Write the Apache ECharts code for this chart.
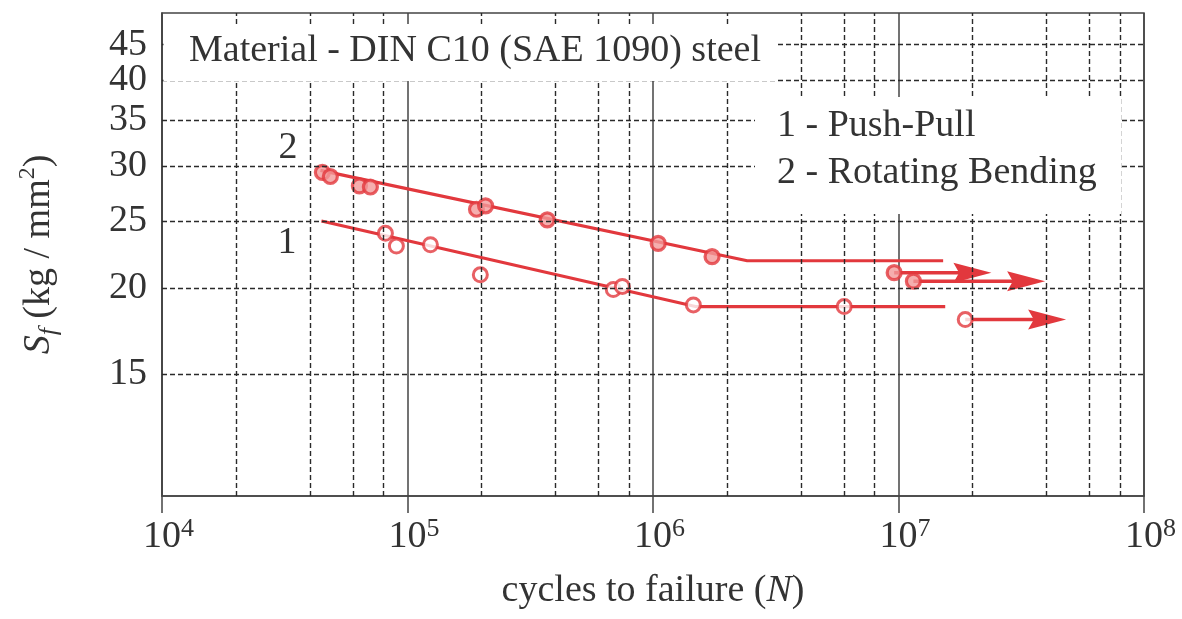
<!DOCTYPE html>
<html><head><meta charset="utf-8">
<script src="https://cdn.jsdelivr.net/npm/echarts@6/dist/echarts.min.js"></script>
<style>html,body{margin:0;padding:0;background:#fff}#c{width:1182px;height:619px}</style>
</head><body><div id="c"></div>
<script>
const FONT = '"Liberation Serif", "DejaVu Serif", serif';
const RED = '#e2383d';
const TXT = '#333';

// tick labels / grid positions
const xTickExponents = [4, 5, 6, 7, 8];
const yTickValues = [15, 20, 25, 30, 35, 40, 45];
const xMinorGrid = [2e4, 4e4, 6e4, 8e4, 2e5, 4e5, 6e5, 8e5, 2e6, 4e6, 6e6, 8e6, 2e7, 4e7, 6e7, 8e7];

// Curve 1 : Push-Pull
const pushPullFit = [[4.46e4, 25.0], [1.49e6, 18.8], [1.55e7, 18.8]];
const pushPullTests = [[8.13e4, 24.0], [9.01e4, 23.0], [1.24e5, 23.1], [1.98e5, 20.9], [6.89e5, 19.9],
  [7.5e5, 20.1], [1.46e6, 18.9], [6.01e6, 18.8], [1.87e7, 18.0]];
const pushPullRunouts = [[[1.87e7, 18.0], [4.03e7, 18.0]]];

// Curve 2 : Rotating Bending
const rotBendFit = [[4.42e4, 29.6], [2.42e6, 21.9], [1.52e7, 21.9]];
const rotBendTests = [[4.5e4, 29.4], [4.85e4, 29.0], [6.37e4, 28.1], [7.06e4, 28.0], [1.91e5, 26.0],
  [2.08e5, 26.3], [3.71e5, 25.1], [1.05e6, 23.2], [1.74e6, 22.2], [9.6e6, 21.05], [1.15e7, 20.46]];
const rotBendRunouts = [[[9.6e6, 21.05], [2.0e7, 21.05]], [[1.15e7, 20.46], [3.31e7, 20.46]]];

const ARROW = 'path://M0,0 L10,5 L0,10 L1.5,5 Z';

const chart = echarts.init(document.getElementById('c'), null, {renderer: 'canvas'});

function arrowSeries(seg) {
  return {
    type: 'line', silent: true, z: 3,
    lineStyle: {color: RED, width: 3.5},
    itemStyle: {color: RED},
    data: [
      {value: seg[0], symbol: 'none'},
      {value: seg[1], symbol: ARROW, symbolSize: [38, 20]}
    ]
  };
}

const gridLineData = []
  .concat(xMinorGrid.map(v => ({xAxis: v})))
  .concat(yTickValues.map(v => ({
    yAxis: v,
    label: {show: true, position: 'start', distance: 15, formatter: String(v),
      fontSize: 38, fontFamily: FONT, color: TXT}
  })));

const option = {
  animation: false,
  backgroundColor: '#fff',
  grid: {left: 162, right: 38, top: 13, bottom: 123, show: true, borderColor: '#444', borderWidth: 1.5,
    outerBoundsMode: 'none'},
  xAxis: {
    type: 'log', logBase: 10, min: 1e4, max: 1e8,
    name: '{t|cycles to failure (}{i|N}{t|)}',
    nameLocation: 'middle', nameGap: 76,
    nameTextStyle: {rich: {
      t: {fontSize: 38, fontFamily: FONT, color: TXT},
      i: {fontSize: 38, fontFamily: FONT, fontStyle: 'italic', color: TXT}
    }},
    axisLine: {show: true, lineStyle: {color: '#444', width: 1.5}},
    axisTick: {show: true, inside: false, length: 17, lineStyle: {color: '#444', width: 1.5}},
    splitLine: {show: true, lineStyle: {color: '#444', width: 1.5}},
    axisLabel: {
      margin: 20,
      formatter: function (v) {
        const e = Math.round(Math.log10(v));
        const idx = xTickExponents.indexOf(e);
        return idx < 0 ? '' : '{sp|}{b|10}{s|' + xTickExponents[idx] + '}';
      },
      rich: {
        sp: {width: 13},
        b: {fontSize: 38, fontFamily: FONT, color: TXT, lineHeight: 40, verticalAlign: 'bottom'},
        s: {fontSize: 26, fontFamily: FONT, color: TXT, lineHeight: 26, verticalAlign: 'top'}
      }
    }
  },
  yAxis: {
    type: 'log', logBase: 10, min: 10, max: 50,
    name: '{si|S}{sub|f}{t| (kg / mm}{sup|2}{t|)}',
    nameLocation: 'middle', nameRotate: 90, nameGap: 100,
    nameTextStyle: {rich: {
      si: {fontSize: 38, fontFamily: FONT, fontStyle: 'italic', color: TXT, lineHeight: 46, verticalAlign: 'middle'},
      sub: {fontSize: 26, fontFamily: FONT, fontStyle: 'italic', color: TXT, lineHeight: 26, verticalAlign: 'bottom'},
      t: {fontSize: 38, fontFamily: FONT, color: TXT, lineHeight: 46, verticalAlign: 'middle'},
      sup: {fontSize: 24, fontFamily: FONT, color: TXT, lineHeight: 24, verticalAlign: 'top'}
    }},
    axisLine: {show: true, lineStyle: {color: '#444', width: 1.5}},
    axisTick: {show: false},
    axisLabel: {show: false},
    splitLine: {show: false}
  },
  series: [
    {
      type: 'line', data: [], silent: true, z: 1,
      markLine: {
        silent: true, animation: false, symbol: ['none', 'none'],
        label: {show: false},
        lineStyle: {type: [5, 3], color: '#2a2a2a', width: 1.4},
        emphasis: {disabled: true},
        data: gridLineData
      }
    },
    {name: '1 - Push-Pull fit', type: 'line', data: pushPullFit, symbol: 'none', silent: true, z: 3,
      lineStyle: {color: RED, width: 3.2}},
    {name: '2 - Rotating Bending fit', type: 'line', data: rotBendFit, symbol: 'none', silent: true, z: 3,
      lineStyle: {color: RED, width: 3.2}},
    ...pushPullRunouts.map(arrowSeries),
    ...rotBendRunouts.map(arrowSeries),
    {name: '1 - Push-Pull', type: 'scatter', data: pushPullTests, symbol: 'circle', symbolSize: 14, z: 4,
      itemStyle: {color: '#fff', borderColor: RED, borderWidth: 3}},
    {name: '2 - Rotating Bending', type: 'scatter', data: rotBendTests, symbol: 'circle', symbolSize: 14, z: 4,
      itemStyle: {color: '#f29a9a', borderColor: RED, borderWidth: 3.2}}
  ],
  graphic: [
    {type: 'rect', z: 10, silent: true, shape: {x: 163.5, y: 24, width: 614, height: 57}, style: {fill: '#fff'}},
    {type: 'text', z: 11, silent: true, x: 189, y: 51,
      style: {text: 'Material - DIN C10 (SAE 1090) steel', fontSize: 38, fontFamily: FONT, fill: TXT, verticalAlign: 'middle'}},
    {type: 'rect', z: 10, silent: true, shape: {x: 755, y: 97, width: 366, height: 117}, style: {fill: '#fff'}},
    {type: 'text', z: 11, silent: true, x: 777, y: 126,
      style: {text: '1 - Push-Pull', fontSize: 38, fontFamily: FONT, fill: TXT, verticalAlign: 'middle'}},
    {type: 'text', z: 11, silent: true, x: 777, y: 173,
      style: {text: '2 - Rotating Bending', fontSize: 38, fontFamily: FONT, fill: TXT, verticalAlign: 'middle'}},
    {type: 'text', z: 11, silent: true, x: 288, y: 148,
      style: {text: '2', fontSize: 38, fontFamily: FONT, fill: TXT, align: 'center', verticalAlign: 'middle'}},
    {type: 'text', z: 11, silent: true, x: 287, y: 243,
      style: {text: '1', fontSize: 38, fontFamily: FONT, fill: TXT, align: 'center', verticalAlign: 'middle'}}
  ]
};
chart.setOption(option);
</script>
</body></html>
